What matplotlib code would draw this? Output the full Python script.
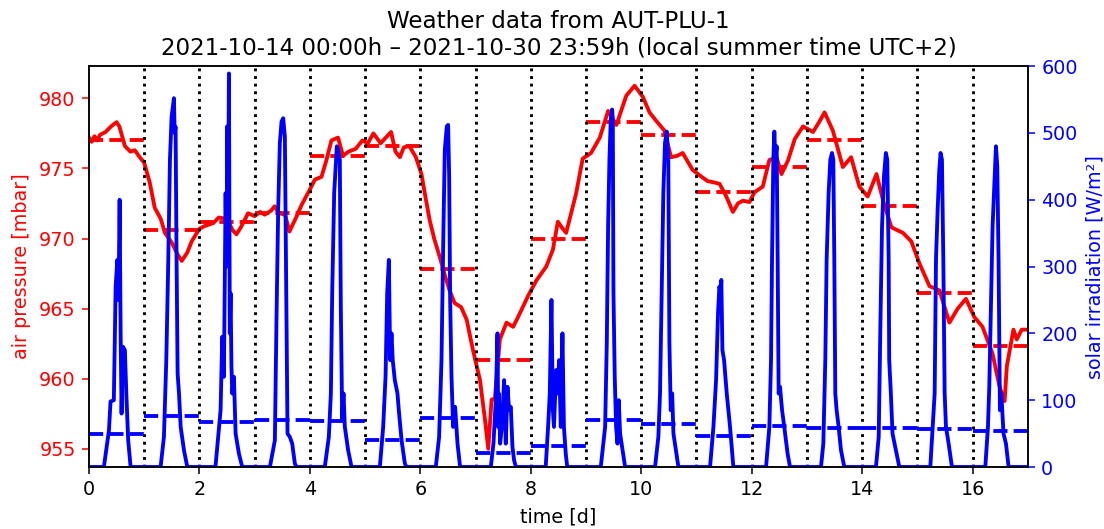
import numpy as np
import matplotlib.pyplot as plt

# --- air pressure (mbar) over time in days ---
p_time = [0.00, 0.05, 0.10, 0.15, 0.20, 0.30, 0.40, 0.50, 0.55, 0.65, 0.75, 0.83, 0.90,
          1.00, 1.10, 1.19, 1.30, 1.375, 1.50, 1.60, 1.68, 1.78, 1.86,
          2.00, 2.10, 2.25, 2.35, 2.50, 2.60, 2.67, 2.75, 2.88,
          3.00, 3.10, 3.18, 3.30, 3.36, 3.45, 3.55, 3.63, 3.75, 3.85,
          4.00, 4.09, 4.21, 4.30, 4.39, 4.51, 4.60, 4.70, 4.83, 4.95,
          5.05, 5.15, 5.28, 5.40, 5.47, 5.55, 5.63, 5.70, 5.80, 5.92,
          6.02, 6.10, 6.17, 6.25, 6.35, 6.45, 6.53, 6.62, 6.74, 6.84, 6.95,
          7.08, 7.17, 7.23, 7.29, 7.35, 7.44, 7.56, 7.68, 7.77, 7.95,
          8.10, 8.28, 8.40, 8.49, 8.56, 8.64, 8.73, 8.82, 8.94,
          9.09, 9.25, 9.40, 9.55, 9.73, 9.88,
          10.03, 10.15, 10.27, 10.42, 10.54, 10.65, 10.75, 10.93,
          11.06, 11.20, 11.32, 11.42, 11.54, 11.66, 11.75, 11.84, 11.96,
          12.05, 12.20, 12.32, 12.45, 12.54, 12.66, 12.78, 12.93,
          13.11, 13.22, 13.32, 13.47, 13.65, 13.80, 13.95,
          14.10, 14.26, 14.38, 14.53, 14.74, 14.89,
          15.04, 15.22, 15.40, 15.58, 15.73, 15.88,
          16.03, 16.18, 16.36, 16.49, 16.58, 16.62, 16.74, 16.80, 16.89, 17.00]
p_value = [977.2, 976.9, 977.3, 977.0, 977.4, 977.6, 978.0, 978.3, 978.0, 976.6, 976.2, 976.3, 975.9,
           975.4, 974.0, 972.2, 971.4, 970.4, 969.7, 968.9, 968.4, 969.0, 969.8,
           970.7, 970.9, 971.1, 971.5, 971.4, 970.6, 970.3, 970.8, 971.8,
           971.6, 971.9, 971.7, 972.0, 972.3, 971.8, 971.7, 970.5, 971.5, 972.4,
           973.5, 974.2, 974.4, 975.6, 977.0, 977.2, 975.9, 976.2, 976.4, 977.0,
           976.8, 977.5, 976.8, 977.3, 977.6, 976.2, 975.8, 976.5, 976.6, 975.8,
           974.6, 972.8, 971.3, 970.0, 968.7, 967.3, 966.3, 965.4, 965.1, 964.2, 962.1,
           959.9, 957.1, 955.0, 958.5, 958.6, 962.8, 964.0, 963.7, 964.4, 965.9,
           967.0, 968.0, 969.2, 971.2, 970.8, 970.4, 971.8, 973.2, 975.7,
           976.1, 977.2, 979.1, 978.1, 980.2, 980.9,
           980.1, 979.0, 978.4, 977.7, 975.8, 975.9, 976.1, 974.9,
           974.5, 974.1, 974.0, 973.9, 973.0, 971.9, 972.5, 972.7, 972.6,
           973.3, 973.7, 975.6, 975.8, 974.6, 975.6, 977.1, 978.0,
           977.6, 978.3, 979.0, 977.7, 975.1, 975.8, 973.7,
           973.0, 974.6, 972.7, 970.8, 970.4, 969.8,
           968.2, 966.6, 966.3, 964.0, 965.0, 965.7,
           964.4, 963.7, 961.8, 959.4, 958.4, 960.9, 963.5, 962.8, 963.5, 963.5]

# --- solar irradiation (W/m²) ---
s_time = [0.00, 0.27, 0.362, 0.39, 0.45, 0.483, 0.513, 0.535, 0.555, 0.573, 0.59, 0.615, 0.65, 0.676, 0.71, 0.754,
          1.297, 1.357, 1.40, 1.436, 1.466, 1.496, 1.538, 1.552, 1.568, 1.586, 1.605, 1.63, 1.66, 1.72, 1.78,
          2.29, 2.383, 2.413, 2.443, 2.474, 2.49, 2.504, 2.52, 2.534, 2.55, 2.564, 2.58, 2.594, 2.624, 2.655, 2.715, 2.775,
          3.276, 3.366, 3.396, 3.426, 3.456, 3.487, 3.517, 3.547, 3.577, 3.595, 3.637, 3.68, 3.728, 3.758,
          4.27, 4.343, 4.38, 4.404, 4.44, 4.464, 4.488, 4.512, 4.542, 4.56, 4.585, 4.609, 4.633, 4.693, 4.754,
          5.267, 5.327, 5.37, 5.40, 5.43, 5.454, 5.478, 5.50, 5.538, 5.586, 5.61, 5.66, 5.72, 5.75,
          6.28, 6.34, 6.383, 6.419, 6.443, 6.48, 6.503, 6.522, 6.54, 6.564, 6.594, 6.63, 6.673, 6.72,
          7.276, 7.324, 7.366, 7.397, 7.41, 7.42, 7.445, 7.475, 7.517, 7.547, 7.578, 7.608, 7.638, 7.668, 7.698, 7.73,
          8.27, 8.313, 8.344, 8.374, 8.40, 8.42, 8.458, 8.48, 8.513, 8.543, 8.573, 8.60, 8.633, 8.66,
          9.267, 9.346, 9.376, 9.40, 9.424, 9.448, 9.473, 9.485, 9.497, 9.52, 9.545, 9.57, 9.593, 9.617, 9.654, 9.708,
          10.25, 10.31, 10.34, 10.37, 10.40, 10.43, 10.462, 10.49, 10.51, 10.534, 10.56, 10.583, 10.61, 10.673,
          11.246, 11.307, 11.355, 11.39, 11.415, 11.44, 11.45, 11.47, 11.50, 11.548, 11.608, 11.668,
          12.26, 12.32, 12.35, 12.368, 12.392, 12.41, 12.428, 12.452, 12.47, 12.488, 12.513, 12.55, 12.59, 12.65, 12.694,
          13.255, 13.297, 13.333, 13.357, 13.393, 13.424, 13.454, 13.478, 13.496, 13.514, 13.538, 13.574, 13.617, 13.677,
          14.25, 14.30, 14.33, 14.36, 14.395, 14.43, 14.455, 14.48, 14.49, 14.52, 14.55, 14.612, 14.673,
          15.234, 15.276, 15.313, 15.337, 15.367, 15.397, 15.42, 15.445, 15.47, 15.494, 15.518, 15.566, 15.626,
          16.23, 16.278, 16.302, 16.338, 16.362, 16.40, 16.423, 16.447, 16.47, 16.495, 16.52, 16.56, 16.604, 16.652, 17.00]
s_value = [0, 0, 55, 98, 100, 270, 310, 250, 400, 200, 80, 180, 175, 110, 40, 0,
           0, 45, 160, 310, 460, 524, 552, 500, 509, 310, 140, 110, 60, 25, 0,
           0, 85, 195, 135, 410, 300, 510, 380, 589, 200, 260, 150, 110, 135, 50, 20, 0,
           0, 40, 225, 385, 485, 517, 522, 494, 210, 50, 45, 35, 5, 0,
           0, 45, 110, 260, 410, 445, 480, 475, 460, 240, 70, 110, 60, 25, 0,
           0, 60, 135, 260, 310, 160, 200, 160, 130, 110, 85, 40, 5, 0,
           0, 45, 160, 360, 475, 510, 512, 435, 250, 135, 60, 90, 35, 0,
           0, 35, 100, 200, 60, 110, 35, 60, 130, 35, 120, 85, 90, 30, 10, 0,
           0, 60, 110, 250, 85, 60, 145, 110, 160, 60, 200, 60, 20, 0,
           0, 60, 185, 360, 460, 520, 535, 520, 260, 135, 60, 35, 100, 50, 30, 0,
           0, 45, 110, 260, 410, 485, 502, 460, 185, 85, 110, 50, 35, 0,
           0, 60, 130, 230, 270, 260, 280, 175, 160, 110, 60, 0,
           0, 60, 160, 310, 460, 502, 460, 480, 310, 110, 120, 85, 60, 20, 0,
           0, 35, 160, 310, 410, 460, 470, 460, 310, 110, 85, 60, 25, 0,
           0, 45, 210, 360, 435, 470, 460, 310, 160, 110, 50, 25, 0,
           0, 60, 110, 310, 385, 445, 470, 460, 310, 110, 60, 35, 0,
           0, 60, 120, 260, 360, 435, 480, 450, 310, 85, 110, 50, 35, 0, 0]

# --- daily means, one per day ---
days = np.arange(17)
p_daily = [977.0, 970.6, 971.2, 971.8, 975.9, 976.6, 967.8, 961.3, 970.0,
           978.3, 977.4, 973.3, 975.1, 977.0, 972.3, 966.1, 962.3]
s_daily = [50, 77, 68, 71, 69, 41, 73, 21, 31, 71, 65, 47, 62, 59, 58, 57, 54]

fig, ax = plt.subplots(figsize=(8, 529 / 138), dpi=138)
fig.subplots_adjust(left=0.0806, right=0.931, top=0.875, bottom=0.1172)
ax2 = ax.twinx()

ax.plot(p_time, p_value, color='red', linewidth=2)
ax.hlines(p_daily, days, days + 1, colors='red', linestyles='--', linewidth=2)
for d in range(1, 17):
    ax.axvline(d, color='black', linestyle=':', linewidth=1.5)

ax2.plot(s_time, s_value, color='blue', linewidth=2)
ax2.hlines(s_daily, days, days + 1, colors='blue', linestyles='--', linewidth=2)

ax.set_xlim(0, 17)
ax.set_ylim(953.7, 982.3)
ax2.set_ylim(0, 600)
ax.set_xticks(np.arange(0, 17, 2))
ax.set_yticks(np.arange(955, 981, 5))
ax2.set_yticks(np.arange(0, 601, 100))

ax.set_xlabel("time [d]")
ax.set_ylabel("air pressure [mbar]", color='red')
ax2.set_ylabel("solar irradiation [W/m²]", color='blue')
ax.tick_params(axis='y', colors='red')
ax2.tick_params(axis='y', colors='blue')
ax.set_title("Weather data from AUT-PLU-1\n"
             "2021-10-14 00:00h – 2021-10-30 23:59h (local summer time UTC+2)")

plt.savefig("out.png", dpi=138)
